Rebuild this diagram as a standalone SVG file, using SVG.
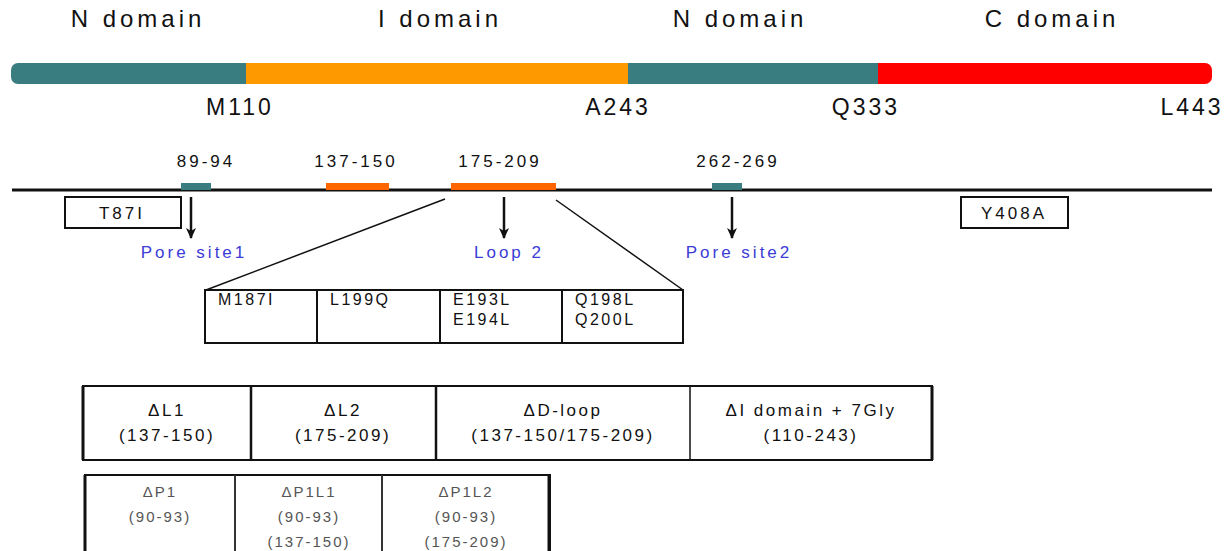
<svg xmlns="http://www.w3.org/2000/svg" width="1227" height="551" viewBox="0 0 1227 551">
<defs>
<style>
text{font-family:"Liberation Sans",Arial,sans-serif;fill:#111}
.dom{font-size:24px;letter-spacing:4px;text-anchor:middle}
.pos{font-size:23px;letter-spacing:3px;text-anchor:middle}
.rng{font-size:17px;letter-spacing:3px;text-anchor:middle}
.blue{font-size:17px;letter-spacing:3px;text-anchor:middle;fill:#3b3bd6}
.mut{font-size:16px;letter-spacing:2.5px}
.del{font-size:17px;letter-spacing:2.5px;text-anchor:middle}
.gry{font-size:15px;letter-spacing:2px;text-anchor:middle;fill:#555}
.box{fill:#fff;stroke:#111;stroke-width:2}
.ln{stroke:#111;stroke-width:1.5}
.arr{stroke:#111;stroke-width:2.5}
</style>
<marker id="ah" markerWidth="12" markerHeight="12" refX="10" refY="5" orient="auto" markerUnits="userSpaceOnUse">
<path d="M0,0 L11,5 L0,10 L3,5 Z" fill="#111"/>
</marker>
</defs>
<rect width="1227" height="551" fill="#fff"/>

<g id="domain-bar">
<rect x="11" y="63" width="238" height="21" rx="7" fill="#3a7d80"/>
<rect x="243" y="63" width="391" height="21" fill="#ff9900"/>
<rect x="628" y="63" width="256" height="21" fill="#3a7d80"/>
<rect x="878" y="63" width="334" height="21" rx="7" fill="#ff0000"/>
<rect x="878" y="63" width="20" height="21" fill="#ff0000"/>
<rect x="236" y="63" width="10" height="21" fill="#3a7d80"/>
<text class="dom" x="138" y="27">N domain</text>
<text class="dom" x="440" y="27">I domain</text>
<text class="dom" x="740" y="27">N domain</text>
<text class="dom" x="1052" y="27">C domain</text>
<text class="pos" x="240" y="115">M110</text>
<text class="pos" x="618" y="115">A243</text>
<text class="pos" x="866" y="115">Q333</text>
<text class="pos" x="1192" y="115">L443</text>
</g>

<g id="sequence-line">
<line x1="12" y1="190" x2="1212" y2="190" stroke="#111" stroke-width="3"/>
<rect x="181" y="183" width="30" height="7" fill="#3a7d80"/>
<rect x="326" y="183" width="63" height="7" fill="#ff6600"/>
<rect x="451" y="183" width="105" height="7" fill="#ff6600"/>
<rect x="712" y="183" width="30" height="7" fill="#3a7d80"/>
<text class="rng" x="206" y="167">89-94</text>
<text class="rng" x="356" y="167">137-150</text>
<text class="rng" x="500" y="167">175-209</text>
<text class="rng" x="738" y="167">262-269</text>
</g>

<g id="T87I"><rect class="box" x="65" y="197" width="116" height="31"/><text class="rng" x="122" y="219">T87I</text></g>
<g id="Y408A"><rect class="box" x="961" y="197" width="107" height="31"/><text class="rng" x="1014" y="219">Y408A</text></g>

<g id="connectors">
<line class="arr" x1="191" y1="197" x2="191" y2="238" marker-end="url(#ah)"/>
<line class="arr" x1="504" y1="197" x2="504" y2="238" marker-end="url(#ah)"/>
<line class="arr" x1="732" y1="197" x2="732" y2="238" marker-end="url(#ah)"/>
<line class="ln" x1="445" y1="199" x2="206" y2="290"/>
<line class="ln" x1="556" y1="200" x2="683" y2="290"/>
</g>

<g id="labels">
<text class="blue" x="194" y="258">Pore site1</text>
<text class="blue" x="509" y="258">Loop 2</text>
<text class="blue" x="739" y="258">Pore site2</text>
</g>

<g id="mutations">
<rect class="box" x="205" y="290" width="478" height="53"/>
<line x1="317" y1="290" x2="317" y2="343" stroke="#111" stroke-width="2"/>
<line x1="440" y1="290" x2="440" y2="343" stroke="#111" stroke-width="2"/>
<line x1="562" y1="290" x2="562" y2="343" stroke="#111" stroke-width="2"/>
<text class="mut" x="218" y="305">M187I</text>
<text class="mut" x="330" y="305">L199Q</text>
<text class="mut" x="453" y="305">E193L</text>
<text class="mut" x="453" y="325">E194L</text>
<text class="mut" x="575" y="305">Q198L</text>
<text class="mut" x="575" y="325">Q200L</text>
</g>

<g id="deletions">
<rect class="box" x="83" y="386" width="849" height="74"/>
<line x1="83" y1="386" x2="83" y2="460" stroke="#111" stroke-width="3"/>
<line x1="932" y1="386" x2="932" y2="460" stroke="#111" stroke-width="3"/>
<line x1="251" y1="386" x2="251" y2="460" stroke="#111" stroke-width="2.5"/>
<line x1="436" y1="386" x2="436" y2="460" stroke="#111" stroke-width="2.5"/>
<line x1="690" y1="386" x2="690" y2="460" stroke="#111" stroke-width="1.5"/>
<text class="del" x="167" y="416">ΔL1</text>
<text class="del" x="167" y="441">(137-150)</text>
<text class="del" x="343" y="416">ΔL2</text>
<text class="del" x="343" y="441">(175-209)</text>
<text class="del" x="563" y="416">ΔD-loop</text>
<text class="del" x="563" y="441">(137-150/175-209)</text>
<text class="del" x="811" y="416">ΔI domain + 7Gly</text>
<text class="del" x="811" y="441">(110-243)</text>
</g>

<g id="pore-deletions">
<rect class="box" x="85" y="475" width="465" height="80" stroke="#333"/>
<line x1="85" y1="475" x2="85" y2="551" stroke="#111" stroke-width="3"/>
<line x1="549" y1="475" x2="549" y2="551" stroke="#111" stroke-width="3"/>
<line x1="235" y1="475" x2="235" y2="551" stroke="#333" stroke-width="2"/>
<line x1="382" y1="475" x2="382" y2="551" stroke="#333" stroke-width="2"/>
<text class="gry" x="160" y="497">ΔP1</text>
<text class="gry" x="160" y="522">(90-93)</text>
<text class="gry" x="309" y="497">ΔP1L1</text>
<text class="gry" x="309" y="522">(90-93)</text>
<text class="gry" x="309" y="547">(137-150)</text>
<text class="gry" x="466" y="497">ΔP1L2</text>
<text class="gry" x="466" y="522">(90-93)</text>
<text class="gry" x="466" y="547">(175-209)</text>
</g>
</svg>
